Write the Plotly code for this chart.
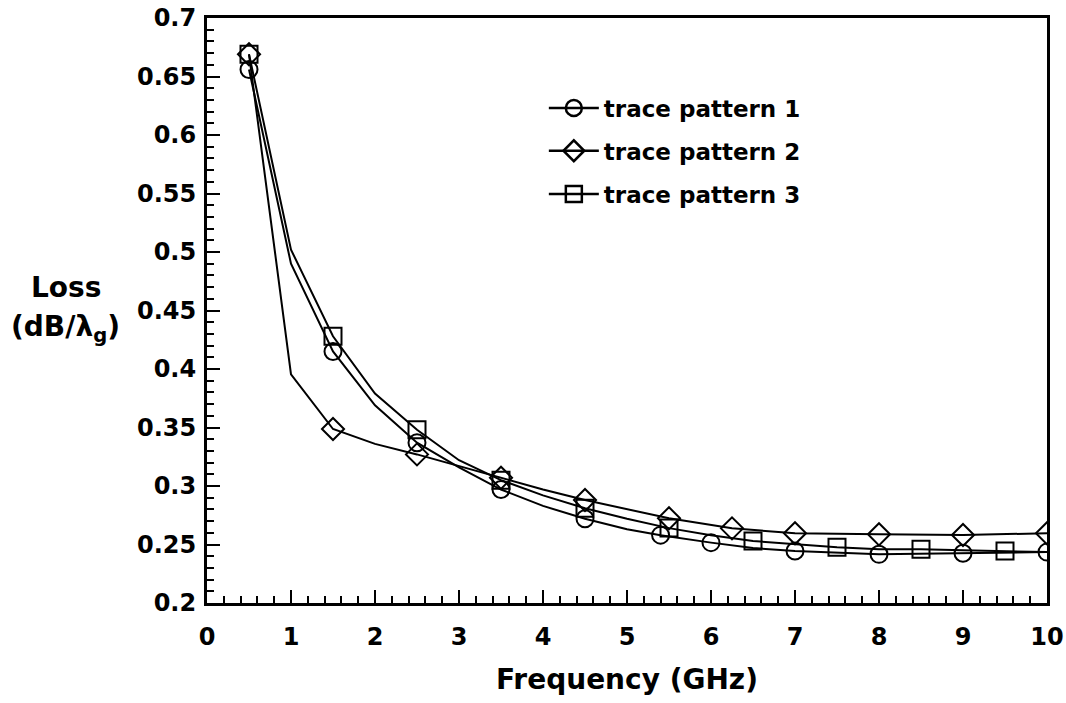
import plotly.graph_objects as go

# ---------------- data ----------------
# line vertices (GHz, dB/lambda_g)
freq_line_1 = [0.5, 1.0, 1.5, 2.0, 2.5, 3.0, 3.5, 4.0, 4.5, 5.0, 5.4, 6.0, 6.5, 7.0, 8.0, 9.0, 10.0]
loss_line_1 = [0.656, 0.490, 0.415, 0.369, 0.337, 0.316, 0.297, 0.283, 0.272, 0.263, 0.258, 0.2516, 0.247, 0.2444, 0.2416, 0.2425, 0.2435]

freq_line_2 = [0.5, 1.0, 1.5, 2.0, 2.5, 3.0, 3.5, 4.0, 4.5, 5.0, 5.5, 6.25, 7.0, 8.0, 9.0, 10.0]
loss_line_2 = [0.669, 0.3955, 0.3487, 0.336, 0.327, 0.317, 0.307, 0.297, 0.288, 0.280, 0.2724, 0.2638, 0.2596, 0.2587, 0.2581, 0.2596]

freq_line_3 = [0.5, 1.0, 1.5, 2.0, 2.5, 3.0, 3.5, 4.0, 4.5, 5.0, 5.5, 6.0, 6.5, 7.0, 7.5, 8.0, 8.5, 9.0, 9.5, 10.0]
loss_line_3 = [0.669, 0.502, 0.428, 0.379, 0.348, 0.322, 0.305, 0.292, 0.281, 0.272, 0.264, 0.258, 0.253, 0.250, 0.2476, 0.246, 0.2459, 0.245, 0.2444, 0.2435]

# marker points
freq_mark_1 = [0.5, 1.5, 2.5, 3.5, 4.5, 5.4, 6.0, 7.0, 8.0, 9.0, 10.0]
loss_mark_1 = [0.656, 0.415, 0.337, 0.297, 0.272, 0.258, 0.2516, 0.2444, 0.2416, 0.2425, 0.2435]

freq_mark_2 = [0.5, 1.5, 2.5, 3.5, 4.5, 5.5, 6.25, 7.0, 8.0, 9.0, 10.0]
loss_mark_2 = [0.669, 0.3487, 0.327, 0.307, 0.288, 0.2724, 0.2638, 0.2596, 0.2587, 0.2581, 0.2596]

freq_mark_3 = [0.5, 1.5, 2.5, 3.5, 4.5, 5.5, 6.5, 7.5, 8.5, 9.5]
loss_mark_3 = [0.669, 0.428, 0.348, 0.305, 0.281, 0.264, 0.253, 0.2476, 0.2459, 0.2444]

series_names = ["trace pattern 1", "trace pattern 2", "trace pattern 3"]

x_tick_vals = [0, 1, 2, 3, 4, 5, 6, 7, 8, 9, 10]
y_tick_vals = [0.2, 0.25, 0.3, 0.35, 0.4, 0.45, 0.5, 0.55, 0.6, 0.65, 0.7]
y_tick_text = ["0.2", "0.25", "0.3", "0.35", "0.4", "0.45", "0.5", "0.55", "0.6", "0.65", "0.7"]

# ---------------- figure ----------------
FONT = "DejaVu Sans, Liberation Sans, Arial, sans-serif"
fig = go.Figure()

series = [
    (freq_line_1, loss_line_1, freq_mark_1, loss_mark_1, "circle-open", "legend"),
    (freq_line_2, loss_line_2, freq_mark_2, loss_mark_2, "diamond-open", "legend2"),
    (freq_line_3, loss_line_3, freq_mark_3, loss_mark_3, "square-open", "legend3"),
]

for name, (fl, ll, fm, lm, sym, leg) in zip(series_names, series):
    fig.add_trace(go.Scatter(x=fl, y=ll, mode="lines",
                             line=dict(color="black", width=2),
                             showlegend=False, hoverinfo="skip"))
    fig.add_trace(go.Scatter(x=fm, y=lm, mode="markers",
                             marker=dict(symbol=sym, size=17, color="black",
                                         line=dict(color="black", width=2)),
                             showlegend=False))
    # legend entry
    fig.add_trace(go.Scatter(x=[None], y=[None], mode="lines+markers", name=name,
                             line=dict(color="black", width=2.5),
                             marker=dict(symbol=sym, size=16, color="black",
                                         line=dict(color="black", width=2.5)),
                             legend=leg, showlegend=True))

legend_common = dict(font=dict(family=FONT, size=23, color="black", weight="bold"),
                     bgcolor="rgba(0,0,0,0)", borderwidth=0,
                     xanchor="left", yanchor="middle", itemwidth=50)

fig.update_layout(
    width=1066, height=703,
    margin=dict(l=207, r=19, t=18, b=100, autoexpand=False),
    paper_bgcolor="white", plot_bgcolor="white",
    font=dict(family=FONT, color="black"),
    legend=dict(x=0.401, y=0.846, **legend_common),
    legend2=dict(x=0.401, y=0.773, **legend_common),
    legend3=dict(x=0.401, y=0.699, **legend_common),
    xaxis=dict(range=[0, 10], tickvals=x_tick_vals, automargin=False,
               showline=True, linecolor="black", linewidth=3, mirror=True,
               ticks="inside", ticklen=13, tickwidth=1.5, tickcolor="black",
               minor=dict(dtick=0.2, ticks="inside", ticklen=7, tickwidth=1.5, tickcolor="black"),
               showgrid=False, zeroline=False,
               tickfont=dict(family=FONT, size=24, color="black", weight="bold"),
               ticklabelstandoff=10,
               title=dict(text="Frequency (GHz)", standoff=20,
                          font=dict(family=FONT, size=28, color="black", weight="bold"))),
    yaxis=dict(range=[0.2, 0.7], tickvals=y_tick_vals, ticktext=y_tick_text, automargin=False,
               showline=True, linecolor="black", linewidth=3, mirror=True,
               ticks="inside", ticklen=13, tickwidth=1.5, tickcolor="black",
               minor=dict(dtick=0.01, ticks="inside", ticklen=7, tickwidth=1.5, tickcolor="black"),
               showgrid=False, zeroline=False,
               tickfont=dict(family=FONT, size=24, color="black", weight="bold"),
               ticklabelstandoff=3),
    annotations=[
        dict(text="<b>Loss</b>", xref="paper", yref="paper", x=-0.168, y=0.54,
             xanchor="center", yanchor="middle", showarrow=False,
             font=dict(family=FONT, size=28, color="black")),
        dict(text="<b>(dB/λ<sub>g</sub>)</b>", xref="paper", yref="paper", x=-0.168, y=0.47,
             xanchor="center", yanchor="middle", showarrow=False,
             font=dict(family=FONT, size=28, color="black")),
    ],
)

fig.write_html("out.html")
